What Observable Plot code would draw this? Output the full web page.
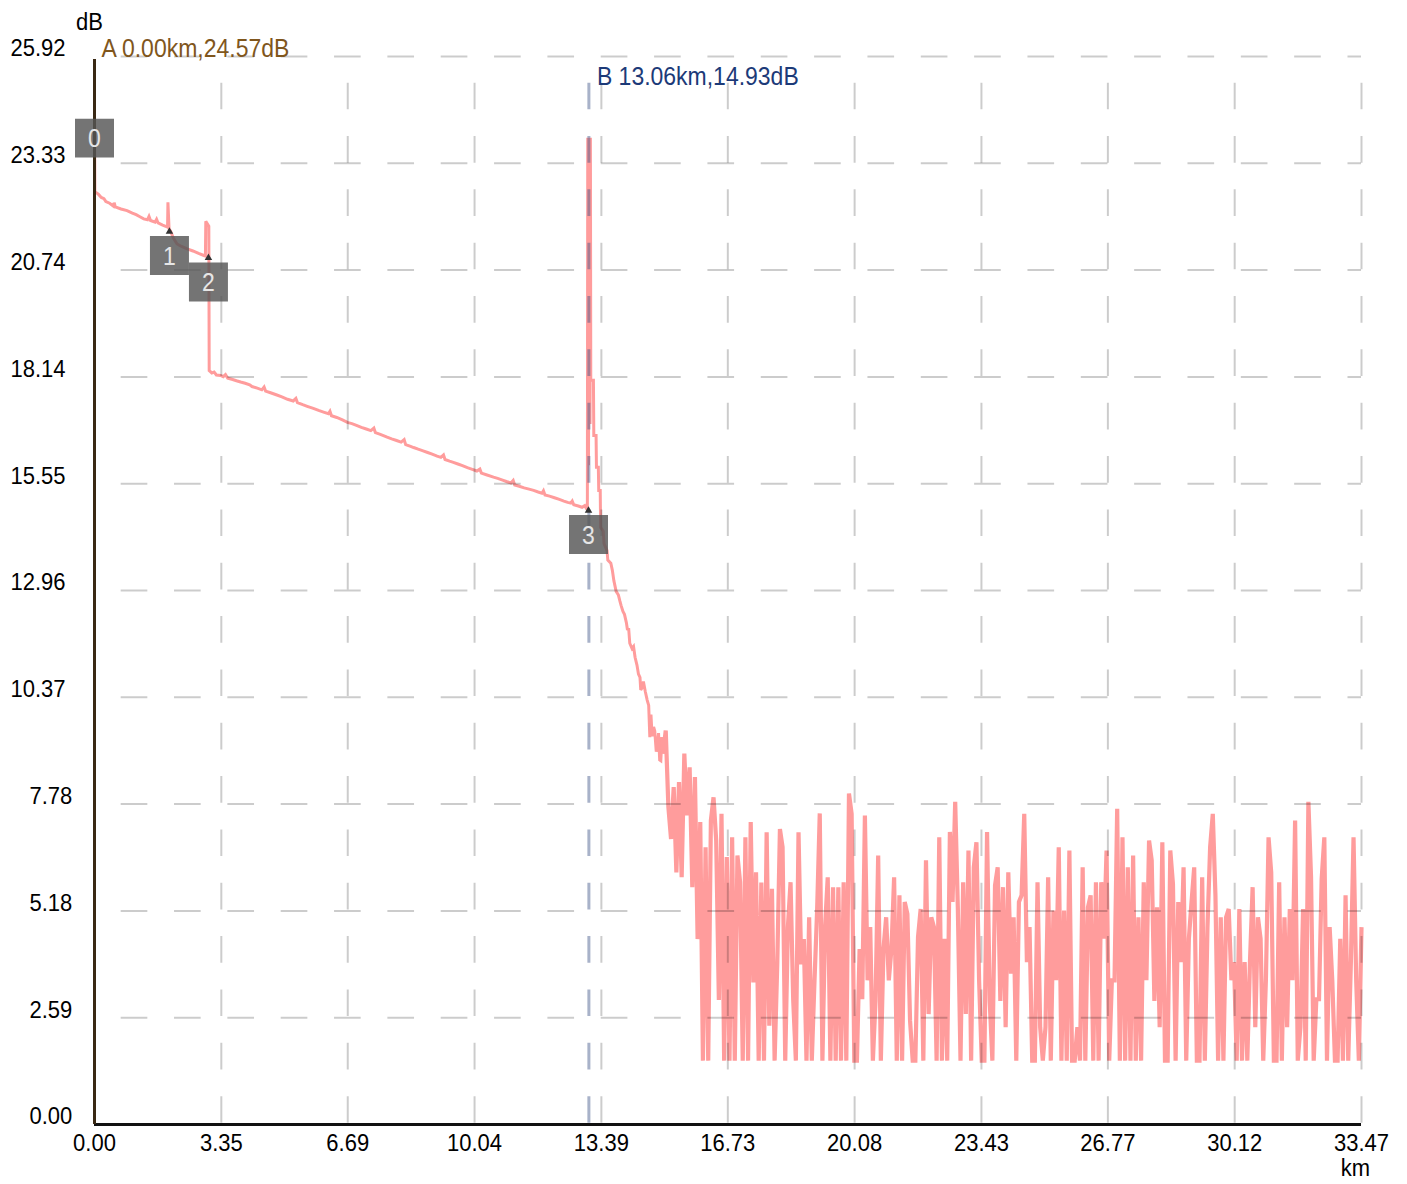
<!DOCTYPE html>
<html><head><meta charset="utf-8">
<script src="https://cdn.jsdelivr.net/npm/d3@7"></script>
<script src="https://cdn.jsdelivr.net/npm/@observablehq/plot@0.6"></script>
<style>html,body{margin:0;padding:0;background:#fff} svg{display:block}</style>
</head><body><div id="chart"></div>
<script>
// ---- axis ticks ----
const xTickValues = [0, 3.35, 6.69, 10.04, 13.39, 16.73, 20.08, 23.43, 26.77, 30.12, 33.47];
const xTickLabels = ["0.00","3.35","6.69","10.04","13.39","16.73","20.08","23.43","26.77","30.12","33.47"];
const yTickValues = [0, 2.59, 5.18, 7.78, 10.37, 12.96, 15.55, 18.14, 20.74, 23.33, 25.92];
const yTickLabels = ["0.00","2.59","5.18","7.78","10.37","12.96","15.55","18.14","20.74","23.33","25.92"];

// ---- trace (km, dB) up to the end of the fibre ----
const traceKm = [0,0.01,0.10,0.18,0.25,0.30,0.40,0.50,0.52,0.55,0.70,0.86,1.00,1.10,1.20,1.30,1.40,1.44,1.48,1.60,1.64,1.68,1.80,1.93,1.94,1.97,2.01,2.08,2.18,2.30,2.45,2.60,2.75,2.89,2.93,2.94,3.02,3.03,
3.10,3.16,3.22,3.33,3.40,3.46,3.52,3.65,3.75,3.86,3.98,4.10,4.16,4.30,4.42,4.48,4.52,4.65,4.80,4.95,5.10,5.25,5.32,5.36,5.50,5.62,5.78,5.92,6.05,6.18,6.22,6.26,6.40,6.55,6.68,6.80,6.92,7.05,7.18,7.30,7.38,7.42,7.55,7.73,7.85,7.98,8.10,8.18,8.22,8.35,8.43,8.55,8.68,8.80,8.92,9.05,9.15,9.22,9.26,9.38,9.48,9.60,9.72,9.85,9.98,10.10,10.18,10.22,10.35,10.54,10.65,10.78,10.90,11.00,11.06,11.10,11.22,11.35,11.48,11.60,11.72,11.82,11.86,11.90,12.02,12.15,12.28,12.40,12.50,12.58,12.62,12.66,12.78,12.88,12.95,13.00,13.02,
13.03,13.05,13.07,13.09,13.10,13.11,13.18,13.19,13.25,13.26,13.31,13.32,13.36,13.37,13.44,13.46,13.54,13.56,13.64,13.68,13.72,13.78,13.84,13.88,13.91,13.96,14.00,14.05,14.08,14.11,14.14,14.20,14.24,14.28,14.33,14.37,14.41,14.43,14.46,14.50,14.55,14.60,14.64,14.67,14.70,14.73,14.77,14.80,14.84,14.87,14.90,14.93,14.96,14.99];
const traceDb = [24.57,22.64,22.58,22.50,22.47,22.40,22.36,22.29,22.37,22.27,22.22,22.18,22.12,22.08,22.03,21.98,21.96,22.04,21.94,21.90,21.97,21.88,21.83,21.78,22.38,21.74,21.68,21.52,21.37,21.31,21.25,21.20,21.14,21.09,21.08,21.92,21.80,18.30,
18.24,18.26,18.19,18.18,18.15,18.20,18.11,18.08,18.05,18.02,17.99,17.95,17.91,17.87,17.83,17.90,17.80,17.76,17.71,17.66,17.60,17.56,17.62,17.52,17.47,17.43,17.38,17.33,17.29,17.25,17.31,17.20,17.16,17.10,17.04,17.01,16.97,16.92,16.88,16.84,16.90,16.79,16.75,16.68,16.64,16.60,16.56,16.62,16.50,16.46,16.43,16.39,16.35,16.31,16.27,16.22,16.19,16.25,16.14,16.10,16.07,16.03,15.99,15.94,15.90,15.86,15.91,15.81,15.77,15.71,15.68,15.64,15.60,15.57,15.63,15.52,15.49,15.45,15.42,15.39,15.35,15.32,15.38,15.28,15.25,15.21,15.17,15.13,15.10,15.08,15.13,15.04,15.01,14.98,15.02,14.94,14.93,
23.95,16.00,23.95,17.00,23.95,18.06,18.06,16.72,16.72,15.95,15.95,15.39,15.39,14.49,14.40,14.10,13.93,13.70,13.62,13.45,13.20,12.94,12.85,12.70,12.60,12.45,12.38,12.18,12.00,12.05,11.68,11.55,11.60,11.34,11.15,10.93,10.85,10.55,10.59,10.75,10.51,10.30,10.17,9.40,9.95,9.42,9.65,9.55,9.05,9.17,9.50,8.85,8.83,9.40];

// ---- noise floor section, uniformly sampled from noiseStartKm to noiseEndKm ----
const noiseStartKm = 15.02;
const noiseEndKm = 33.47;
const noiseDb = [
9.0,9.56,7.7,6.93,8.19,6.12,8.31,6.0,9.0,7.5,8.67,5.76,8.43,4.5,7.34,1.55,6.73,1.55,7.38,7.94,6.89,3.02,7.54,1.55,6.49,1.55,6.97,1.55,6.53,5.88,1.55,6.97,1.55,7.34,3.45,6.12,1.55,5.87,1.55,7.09,2.4,5.72,1.55,3.9,7.17,6.73,1.55,4.79,5.88,3.02,1.55,7.09,3.89,4.5,1.55,5.03,1.55,3.45,5.19,7.55,1.55,4.79,6.0,
1.55,5.76,1.55,5.76,1.55,5.88,1.55,8.03,7.54,1.55,1.55,4.26,3.04,7.5,3.5,4.79,1.55,3.0,6.53,1.55,4.26,5.03,3.5,4.26,6.0,1.55,5.56,1.55,5.4,5.11,2.52,1.55,1.55,4.55,5.23,1.55,6.41,2.68,5.03,4.79,1.55,6.97,1.55,4.51,1.55,7.1,5.4,7.83,5.23,1.55,5.88,2.68,6.65,1.55,6.24,6.85,3.5,1.55,1.55,7.1,3.0,1.55,5.8,
6.24,3.0,5.76,2.36,6.12,3.66,5.03,1.55,5.4,5.56,7.54,3.94,4.79,1.55,1.55,5.88,2.36,1.55,2.36,6.0,1.55,5.19,3.5,6.73,1.55,5.19,1.55,6.65,1.55,1.55,2.36,1.55,6.24,1.55,5.27,5.56,1.55,5.88,1.55,5.88,4.51,6.65,1.55,3.5,3.5,7.66,1.55,6.97,1.55,6.24,1.55,6.53,1.55,5.03,1.55,5.88,3.5,6.89,6.41,3.0,5.27,2.36,6.85,1.55,1.55,6.65,5.84,1.55,5.4,
3.94,6.24,1.55,4.51,5.4,6.24,1.55,1.55,6.0,1.55,4.79,6.73,7.54,5.56,1.55,5.03,1.55,5.03,5.23,3.5,3.94,1.55,5.23,1.55,3.94,1.55,3.94,5.76,2.36,5.03,4.51,1.55,3.5,6.97,6.12,1.55,1.55,5.88,1.55,5.03,2.36,5.23,3.5,7.38,1.55,2.36,5.23,1.55,7.83,6.0,1.55,3.04,3.04,5.96,6.97,1.55,4.79,3.5,1.55,1.55,4.51,1.55,5.56,1.55,3.94,6.97,3.5,1.55,4.79];

// ---- events and cursors ----
const eventKm = [0, 1.98, 3.01, 13.05];
const eventDb = [24.57, 21.72, 21.08, 14.95];
const eventLabels = ["0", "1", "2", "3"];
const cursorKm = [0, 13.06];
const cursorLabels = ["A 0.00km,24.57dB", "B 13.06km,14.93dB"];

// ---- build tables ----
const trace = traceKm.map((k, i) => ({km: k, db: traceDb[i]}));
const noiseStep = (noiseEndKm - noiseStartKm) / (noiseDb.length - 1);
const noise = [trace[trace.length - 1]];
noiseDb.forEach((v, i) => noise.push({km: noiseStartKm + i * noiseStep, db: v}));
const events = eventKm.map((k, i) => ({km: k, db: eventDb[i], label: eventLabels[i]}));
const xTicks = xTickValues.map((v, i) => ({v, label: xTickLabels[i]}));
const yTicks = yTickValues.map((v, i) => ({v, label: yTickLabels[i]}));

const dash = {strokeDasharray: "26.67,26.67", strokeDashoffset: 26.67};
const traceColor = "#ff9c9c";

const chart = Plot.plot({
  width: 1407,
  height: 1184,
  marginLeft: 94,
  marginRight: 46,
  marginTop: 56,
  marginBottom: 60,
  style: {fontFamily: "'Liberation Sans', Arial, sans-serif", fontSize: "22px", background: "#fff", overflow: "visible"},
  x: {domain: [0, 33.47], axis: null},
  y: {domain: [0, 25.92], axis: null},
  marks: [
    Plot.line(trace, {x: "km", y: "db", stroke: traceColor, strokeWidth: 3, strokeLinejoin: "miter", strokeMiterlimit: 3, strokeLinecap: "butt"}),
    Plot.line(noise, {x: "km", y: "db", stroke: traceColor, strokeWidth: 4.2, strokeLinejoin: "miter", strokeMiterlimit: 1.5, strokeLinecap: "butt"}),
    Plot.ruleY(yTickValues.slice(1), {stroke: "#000", strokeOpacity: 0.2, strokeWidth: 2, ...dash}),
    Plot.ruleX(xTickValues.slice(1), {stroke: "#000", strokeOpacity: 0.2, strokeWidth: 2, ...dash}),
    Plot.ruleX([cursorKm[1]], {stroke: "#3f5488", strokeOpacity: 0.45, strokeWidth: 3, ...dash}),
    Plot.ruleY([0], {stroke: "#111", strokeWidth: 3}),
    Plot.ruleX([cursorKm[0]], {y1: 25.85, y2: 0, stroke: "#3a2914", strokeWidth: 3}),
    Plot.text([cursorLabels[0]], {x: cursorKm[0], frameAnchor: "top", dy: -8, dx: 7, textAnchor: "start", lineAnchor: "middle", fill: "#80561c", fontSize: 23, text: d => d}),
    Plot.text([cursorLabels[1]], {x: cursorKm[1], frameAnchor: "top", dy: 20, dx: 8, textAnchor: "start", lineAnchor: "middle", fill: "#1c3a78", fontSize: 23, text: d => d}),
    Plot.dot(events, {x: "km", y: "db", symbol: "square", r: 22, dy: 26, fill: "#555", fillOpacity: 0.82, stroke: "none"}),
    Plot.dot(events.slice(1), {x: "km", y: "db", symbol: "triangle", r: 2.8, dy: 2, fill: "#333", stroke: "none"}),
    Plot.text(events, {x: "km", y: "db", dy: 27, text: "label", fill: "#e6e6e6", fontSize: 23, lineAnchor: "middle"}),
    Plot.text(xTicks, {x: "v", text: "label", frameAnchor: "bottom", dy: 19, lineAnchor: "middle", fill: "#000"}),
    Plot.text(yTicks.filter(d => d.v >= 10), {y: "v", text: "label", frameAnchor: "left", dx: -84, dy: -8, textAnchor: "start", lineAnchor: "middle", fill: "#000"}),
    Plot.text(yTicks.filter(d => d.v < 10), {y: "v", text: "label", frameAnchor: "left", dx: -65, dy: -8, textAnchor: "start", lineAnchor: "middle", fill: "#000"}),
    Plot.text(["dB"], {frameAnchor: "top-left", dx: -5, dy: -34, textAnchor: "middle", lineAnchor: "middle", fill: "#000", text: d => d}),
    Plot.text(["km"], {frameAnchor: "bottom-right", dx: -6, dy: 44, textAnchor: "middle", lineAnchor: "middle", fill: "#000", text: d => d})
  ]
});
chart.querySelectorAll("text").forEach(t => {
  const tr = t.getAttribute("transform") || "";
  t.setAttribute("transform", tr + " scale(1,1.1)");
});
document.getElementById("chart").appendChild(chart);
</script>
</body></html>
